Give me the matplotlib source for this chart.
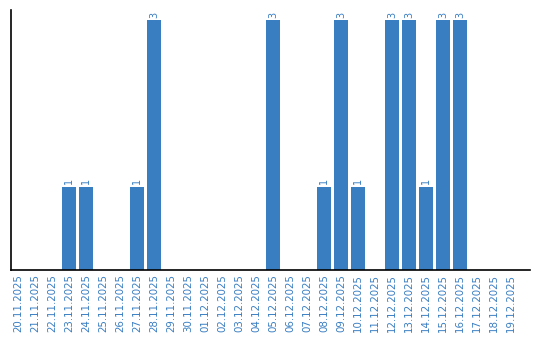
import matplotlib
matplotlib.use("Agg")
import matplotlib.pyplot as plt

dates = ["20.11.2025", "21.11.2025", "22.11.2025", "23.11.2025", "24.11.2025",
         "25.11.2025", "26.11.2025", "27.11.2025", "28.11.2025", "29.11.2025",
         "30.11.2025", "01.12.2025", "02.12.2025", "03.12.2025", "04.12.2025",
         "05.12.2025", "06.12.2025", "07.12.2025", "08.12.2025", "09.12.2025",
         "10.12.2025", "11.12.2025", "12.12.2025", "13.12.2025", "14.12.2025",
         "15.12.2025", "16.12.2025", "17.12.2025", "18.12.2025", "19.12.2025"]
values = [0, 0, 0, 1, 1, 0, 0, 1, 3, 0, 0, 0, 0, 0, 0, 3, 0, 0, 1, 3, 1, 0, 3, 3, 1, 3, 3, 0, 0, 0]

blue = "#3a7ec2"
fig = plt.figure(figsize=(5.4, 3.4), dpi=100)
ax = fig.add_axes([11/540, 70/340, 519/540, 260/340])
x = list(range(len(dates)))
bars = ax.bar(x, values, width=0.82, color=blue)
for xi, v in zip(x, values):
    if v > 0:
        ax.text(xi, v + 0.03, str(v), rotation=90, ha="center", va="bottom",
                fontsize=7, color=blue)
ax.set_xlim(-0.41, 30.1)
ax.set_ylim(0, 3.12)
ax.set_xticks(x)
ax.set_xticklabels(dates, rotation=90, fontsize=7.4, color=blue)
ax.tick_params(axis="x", length=0, pad=3)
ax.set_yticks([])
for s in ["top", "right"]:
    ax.spines[s].set_visible(False)
ax.spines["left"].set_color("black")
ax.spines["bottom"].set_color("black")
ax.spines["left"].set_linewidth(1.2)
ax.spines["bottom"].set_linewidth(1.2)
fig.savefig("out.png", dpi=100)
